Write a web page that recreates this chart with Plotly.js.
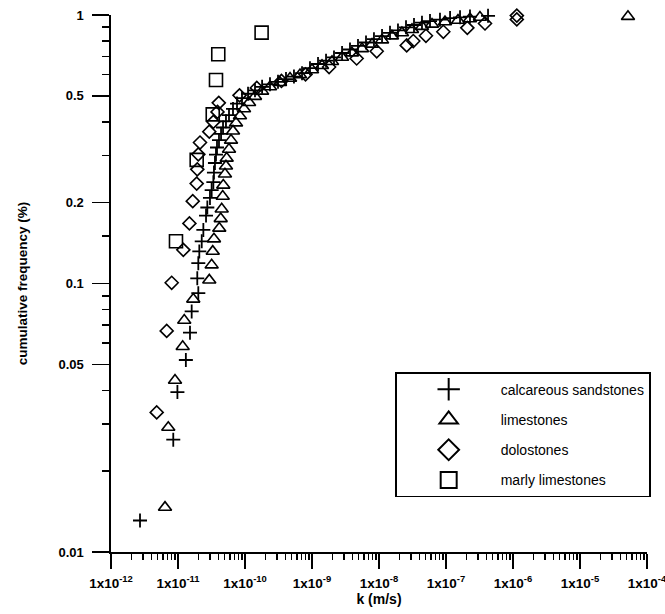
<!DOCTYPE html>
<html><head><meta charset="utf-8">
<script src="https://cdn.plot.ly/plotly-3.0.1.min.js"></script>
<style>html,body{margin:0;padding:0;background:#fff}</style>
</head><body>
<div id="chart" style="width:665px;height:614px"></div>
<script>
// ---- data: hydraulic conductivity k (m/s) vs cumulative frequency ----
const seriesNames = ['calcareous sandstones', 'limestones', 'dolostones', 'marly limestones'];

const sandstoneK = [2.71e-12, 8.5e-12, 9.8e-12, 1.31e-11, 1.51e-11, 1.60e-11, 2.01e-11, 1.94e-11, 2.01e-11, 2.08e-11,
  2.26e-11, 2.39e-11, 2.62e-11, 2.74e-11, 3.0e-11, 3.18e-11, 3.37e-11, 3.44e-11, 3.56e-11,
  3.69e-11, 3.82e-11, 4.09e-11, 4.39e-11, 4.70e-11, 5.20e-11, 5.77e-11, 6.62e-11, 7.60e-11, 9.02e-11,
  1.11e-10, 1.41e-10, 1.80e-10, 2.36e-10, 3.11e-10, 4.09e-10, 5.38e-10, 7.10e-10, 9.33e-10, 1.23e-9,
  1.62e-9, 2.13e-9, 2.81e-9, 3.69e-9, 4.86e-9, 6.40e-9, 8.41e-9, 1.11e-8, 1.46e-8, 1.92e-8,
  2.53e-8, 3.33e-8, 4.38e-8, 5.77e-8, 8.13e-8, 1.15e-7, 1.62e-7, 2.28e-7, 4.24e-7];
const sandstoneF = [0.0131, 0.0262, 0.0394, 0.0519, 0.0656, 0.0787, 0.092, 0.1045, 0.119, 0.1317,
  0.1436, 0.1583, 0.179, 0.1919, 0.2084, 0.2229, 0.2385, 0.2589, 0.281,
  0.302, 0.321, 0.342, 0.361, 0.381, 0.402, 0.424, 0.447, 0.468, 0.490,
  0.509, 0.524, 0.540, 0.552, 0.564, 0.577, 0.590, 0.607, 0.634, 0.657,
  0.676, 0.695, 0.722, 0.744, 0.767, 0.790, 0.813, 0.835, 0.858, 0.876,
  0.9, 0.918, 0.936, 0.949, 0.961, 0.974, 0.98, 0.987, 0.993];

const limestoneK = [6.4e-12, 7.16e-12, 9.02e-12, 1.175e-11, 1.24e-11, 1.69e-11, 2.93e-11, 3.18e-11, 3.30e-11, 3.44e-11,
  4.13e-11, 4.34e-11, 4.49e-11, 4.65e-11, 4.74e-11, 5.02e-11, 5.20e-11, 5.33e-11,
  5.77e-11, 6.18e-11, 6.62e-11, 7.35e-11, 8.41e-11, 9.66e-11, 1.15e-10, 1.41e-10, 1.80e-10, 2.36e-10,
  3.33e-10, 4.70e-10, 6.62e-10, 1.0e-9, 1.41e-9, 1.99e-9, 2.81e-9, 3.95e-9, 5.57e-9, 7.87e-9,
  1.11e-8, 1.56e-8, 2.20e-8, 3.11e-8, 4.38e-8, 6.18e-8, 9.66e-8, 1.51e-7, 2.28e-7, 3.21e-7, 5.2e-5];
const limestoneF = [0.01466, 0.0291, 0.0436, 0.0582, 0.0729, 0.0874, 0.1029, 0.1172, 0.1317, 0.1465,
  0.1606, 0.1743, 0.1893, 0.2111, 0.2323, 0.2556, 0.2735, 0.2927,
  0.316, 0.3416, 0.3693, 0.396, 0.4208, 0.4472, 0.4717, 0.4973, 0.52, 0.540,
  0.56, 0.581, 0.5989, 0.6248, 0.6476, 0.6708, 0.695, 0.722, 0.749, 0.778,
  0.807, 0.835, 0.858, 0.8818, 0.906, 0.924, 0.9423, 0.955, 0.9676, 0.9804, 0.987];

const dolostoneK = [4.81e-12, 6.78e-12, 8.05e-12, 1.20e-11, 1.48e-11, 1.66e-11, 1.90e-11, 1.94e-11, 2.01e-11, 2.13e-11,
  2.93e-11, 3.37e-11, 3.89e-11, 4.06e-11, 8.28e-11, 1.5e-10, 3.5e-10, 8.0e-10, 1.8e-9, 4.64e-9,
  9.25e-9, 2.59e-8, 3.25e-8, 5.02e-8, 9.12e-8, 2.08e-7, 3.82e-7, 1.14e-6, 1.14e-6];
const dolostoneF = [0.0331, 0.0666, 0.1006, 0.1335, 0.1674, 0.2026, 0.2355, 0.2662, 0.3028, 0.335,
  0.3677, 0.4, 0.4355, 0.4707, 0.5022, 0.535, 0.568, 0.601, 0.640, 0.6887,
  0.7326, 0.7703, 0.8, 0.8366, 0.8658, 0.896, 0.930, 0.963, 0.995];

const marlyK = [9.33e-12, 1.90e-11, 3.30e-11, 3.69e-11, 3.99e-11, 1.77e-10];
const marlyF = [0.1436, 0.2888, 0.4264, 0.5726, 0.7145, 0.860];

// ---- ticks ----
const xTickVals = [1e-12, 1e-11, 1e-10, 1e-9, 1e-8, 1e-7, 1e-6, 1e-5, 1e-4];
const xTickText = ['1x10<sup>-12</sup>', '1x10<sup>-11</sup>', '1x10<sup>-10</sup>', '1x10<sup>-9</sup>',
  '1x10<sup>-8</sup>', '1x10<sup>-7</sup>', '1x10<sup>-6</sup>', '1x10<sup>-5</sup>', '1x10<sup>-4</sup>'];
const xMinorMultipliers = [2, 3, 4, 5, 6, 7, 8, 9];
const yTickVals = [0.01, 0.05, 0.1, 0.2, 0.5, 1];
const yTickText = ['0.01', '0.05', '0.1', '0.2', '0.5', '1'];
const yMinorVals = [0.02, 0.03, 0.04, 0.06, 0.07, 0.08, 0.09, 0.15, 0.3, 0.4, 0.6, 0.7, 0.8, 0.9];

const xMinorVals = [];
for (let d = 0; d < xTickVals.length - 1; d++) {
  xMinorMultipliers.forEach(m => xMinorVals.push(m * xTickVals[d]));
}

const styles = [
  {symbol: 'cross-thin-open', size: 10, lw: 1.8},
  {symbol: 'triangle-up-open', size: 11.5, lw: 1.6},
  {symbol: 'diamond-open', size: 10, lw: 1.6},
  {symbol: 'square-open', size: 13, lw: 1.6}
];
const dataX = [sandstoneK, limestoneK, dolostoneK, marlyK];
const dataY = [sandstoneF, limestoneF, dolostoneF, marlyF];

const traces = [];
// empty traces that carry the minor-tick overlay axes
traces.push({type: 'scatter', mode: 'markers', x: [null], y: [null], xaxis: 'x2', yaxis: 'y',
  showlegend: false, hoverinfo: 'skip'});
traces.push({type: 'scatter', mode: 'markers', x: [null], y: [null], xaxis: 'x', yaxis: 'y2',
  showlegend: false, hoverinfo: 'skip'});
// draw order: squares, diamonds, triangles, crosses on top
[3, 2, 1, 0].forEach(i => {
  traces.push({
    type: 'scatter', mode: 'markers', x: dataX[i], y: dataY[i], name: seriesNames[i],
    showlegend: false, cliponaxis: false, hoverinfo: 'skip',
    marker: {symbol: styles[i].symbol, size: styles[i].size, color: '#000',
             line: {color: '#000', width: styles[i].lw}}
  });
});
// legend entries (larger symbols, no data points)
[0, 1, 2, 3].forEach(i => {
  traces.push({
    type: 'scatter', mode: 'markers', x: [null], y: [null], name: seriesNames[i],
    showlegend: true, legendgroup: 'g' + i, hoverinfo: 'skip',
    marker: {symbol: styles[i].symbol, size: 16, color: '#000',
             line: {color: '#000', width: 2}}
  });
});

const fontFam = 'Liberation Sans, Arial, Helvetica, sans-serif';
const layout = {
  width: 665, height: 614,
  margin: {l: 111, r: 18, t: 15, b: 62},
  paper_bgcolor: '#fff', plot_bgcolor: '#fff',
  font: {family: fontFam, color: '#000', size: 12},
  hovermode: false,
  xaxis: {
    type: 'log', range: [-12, -4], showline: true, linecolor: '#000', linewidth: 1.6,
    showgrid: false, zeroline: false, ticks: 'outside', ticklen: 15, tickwidth: 1.6, tickcolor: '#000',
    tickmode: 'array', tickvals: xTickVals, ticktext: xTickText, ticklabeloverflow: 'allow',
    ticklabelstandoff: 3,
    tickfont: {family: fontFam, size: 13.5, weight: 'bold'},
    title: {text: 'k (m/s)', font: {family: fontFam, size: 14, weight: 'bold'}, standoff: 4}
  },
  yaxis: {
    type: 'log', range: [-2, 0], showline: true, linecolor: '#000', linewidth: 1.6,
    showgrid: false, zeroline: false, ticks: 'outside', ticklen: 17, tickwidth: 1.6, tickcolor: '#000',
    tickmode: 'array', tickvals: yTickVals, ticktext: yTickText, ticklabelstandoff: 6,
    tickfont: {family: fontFam, size: 13, weight: 'bold'},
    title: {text: 'cumulative frequency (%)', font: {family: fontFam, size: 13.5, weight: 'bold'}, standoff: 28}
  },
  xaxis2: {
    type: 'log', range: [-12, -4], overlaying: 'x', anchor: 'y', side: 'bottom',
    showline: false, showgrid: false, zeroline: false, showticklabels: false,
    ticks: 'outside', ticklen: 7, tickwidth: 1.3, tickcolor: '#000',
    tickmode: 'array', tickvals: xMinorVals
  },
  yaxis2: {
    type: 'log', range: [-2, 0], overlaying: 'y', anchor: 'x', side: 'left',
    showline: false, showgrid: false, zeroline: false, showticklabels: false,
    ticks: 'outside', ticklen: 8, tickwidth: 1.6, tickcolor: '#000',
    tickmode: 'array', tickvals: yMinorVals
  },
  showlegend: true,
  legend: {
    x: 0.53, y: 0.335, xanchor: 'left', yanchor: 'top',
    bordercolor: '#000', borderwidth: 1.6, bgcolor: '#fff',
    font: {family: fontFam, size: 14, color: '#000'},
    itemwidth: 94, tracegroupgap: 9, traceorder: 'grouped', itemclick: false
  }
};

Plotly.newPlot('chart', traces, layout, {staticPlot: true, displayModeBar: false});
</script>
</body></html>
